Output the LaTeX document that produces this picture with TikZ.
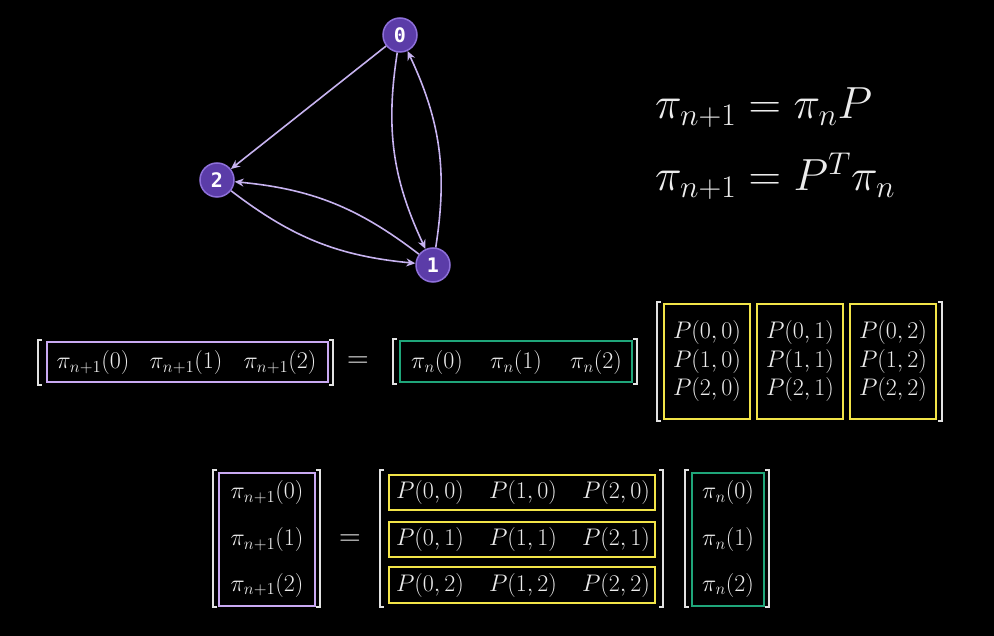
\RequirePackage{fix-cm}
\documentclass[tikz,border=0pt]{standalone}
\usepackage{fontspec}
\newfontfamily\nodefont{DejaVu Sans Mono}
\usetikzlibrary{arrows.meta}
\definecolor{nodefill}{HTML}{5B3CA8}
\definecolor{nodeedge}{HTML}{8E70DA}
\definecolor{edgec}{HTML}{C7B3F0}
\definecolor{lav}{HTML}{C9A9F2}
\definecolor{grn}{HTML}{1FA67A}
\definecolor{yel}{HTML}{F2E448}
\definecolor{txt}{HTML}{ECECEC}
\definecolor{brk}{HTML}{E2E2E2}
\tikzset{
  gnode/.style={circle, fill=nodefill, draw=nodeedge, line width=1.5pt, minimum size=34pt, inner sep=0pt, text=white, font=\nodefont\bfseries\fontsize{20}{20}\selectfont},
  gedge/.style={draw=edgec, line width=1.6pt, -{Stealth[length=9pt,width=8pt]}},
  mtx/.style={text=txt, font=\fontsize{24}{28}\selectfont, inner sep=0pt},
  eqs/.style={text=txt, font=\fontsize{30}{34}\selectfont, inner sep=0pt},
  big/.style={text=txt, font=\fontsize{45}{52}\selectfont, inner sep=0pt},
  brkst/.style={draw=brk, line width=2.4pt, line cap=square},
  lavbox/.style={draw=lav, line width=2.4pt},
  grnbox/.style={draw=grn, line width=2.4pt},
  yelbox/.style={draw=yel, line width=2.4pt}
}
\newcommand\lbrk[3]{\draw[brkst] ({#1+4},#2) -- (#1,#2) -- (#1,#3) -- ({#1+4},#3);}
\newcommand\rbrk[3]{\draw[brkst] ({#1-4},#2) -- (#1,#2) -- (#1,#3) -- ({#1-4},#3);}
\begin{document}
\begin{tikzpicture}[x=1pt,y=-1pt]
\fill[black] (0,0) rectangle (994,636);
\useasboundingbox (0,0) rectangle (994,636);

% graph
\node[gnode] (n0) at (400,35) {0};
\node[gnode] (n1) at (433,265) {1};
\node[gnode] (n2) at (217,180) {2};
\draw[gedge] (n0) -- (n2);
\draw[gedge] (n0) to[bend right=17] (n1);
\draw[gedge] (n1) to[bend right=17] (n0);
\draw[gedge] (n2) to[bend right=16] (n1);
\draw[gedge] (n1) to[bend right=16] (n2);

% top right equations
\node[big, anchor=west] (e1) at (655,108) {$\pi_{n+1} = \pi_n P$};
\node[big, anchor=west] (e2) at (655,176) {$\pi_{n+1} = P^T \pi_n$};

% top row equation
\lbrk{38}{340}{385}
\draw[lavbox] (47,342) rectangle (328,382);
\rbrk{333}{340}{385}
\node[mtx] (a0) at (93,363) {$\pi_{n+1}(0)$};
\node[mtx] (a1) at (186,363) {$\pi_{n+1}(1)$};
\node[mtx] (a2) at (280,363) {$\pi_{n+1}(2)$};
\node[eqs] (eqa) at (358,362) {$=$};
\lbrk{393}{339}{384}
\draw[grnbox] (400,341) rectangle (632,382);
\rbrk{637}{339}{384}
\node[mtx] (b0) at (437,363) {$\pi_n(0)$};
\node[mtx] (b1) at (516,363) {$\pi_n(1)$};
\node[mtx] (b2) at (596,363) {$\pi_n(2)$};
\lbrk{657}{302}{421}
\rbrk{942}{302}{421}
\draw[yelbox] (664,304) rectangle (750,419);
\draw[yelbox] (757,304) rectangle (843,419);
\draw[yelbox] (850,304) rectangle (936,419);
\foreach \c/\x in {0/707,1/800,2/893}{
  \foreach \r/\y in {0/333,1/362,2/390}{
    \node[mtx] (p\r\c) at (\x,\y) {$P(\r,\c)$};
  }
}

% bottom equation
\lbrk{213}{470}{607}
\draw[lavbox] (219,473) rectangle (315,606);
\rbrk{320}{470}{607}
\node[mtx] (c0) at (267,493) {$\pi_{n+1}(0)$};
\node[mtx] (c1) at (267,540) {$\pi_{n+1}(1)$};
\node[mtx] (c2) at (267,585) {$\pi_{n+1}(2)$};
\node[eqs] (eqb) at (350,540) {$=$};
\lbrk{380}{470}{607}
\rbrk{663}{470}{607}
\draw[yelbox] (389,475) rectangle (655,510);
\draw[yelbox] (389,522) rectangle (655,557);
\draw[yelbox] (389,567) rectangle (655,603);
\foreach \r/\y in {0/492.5,1/539.5,2/585}{
  \foreach \c/\x in {0/430,1/523,2/616}{
    \node[mtx] (q\r\c) at (\x,\y) {$P(\c,\r)$};
  }
}
\lbrk{685}{470}{607}
\draw[grnbox] (692,473) rectangle (764,606);
\rbrk{769}{470}{607}
\node[mtx] (d0) at (728,493) {$\pi_n(0)$};
\node[mtx] (d1) at (728,540) {$\pi_n(1)$};
\node[mtx] (d2) at (728,585) {$\pi_n(2)$};
\end{tikzpicture}
\end{document}
